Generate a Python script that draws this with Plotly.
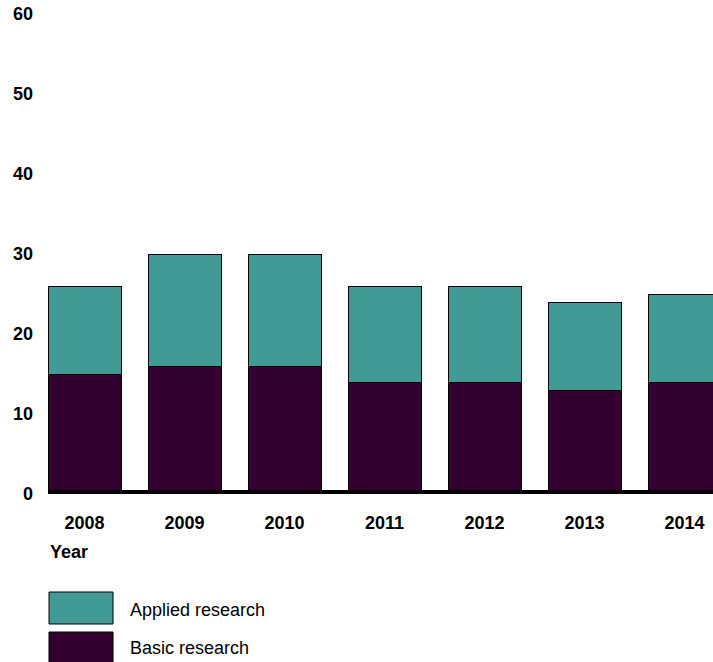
import plotly.graph_objects as go

years = ["2008", "2009", "2010", "2011", "2012", "2013", "2014"]
basic = [15, 16, 16, 14, 14, 13, 14]
applied = [11, 14, 14, 12, 12, 11, 11]
y_ticks = [0, 10, 20, 30, 40, 50, 60]

TEAL = "#419a94"
PURPLE = "#330030"
FONT = "Liberation Sans, Arial, sans-serif"

W, H = 713, 662
L, R, T, B = 48, 0, 14, 168
ph = H - T - B
pw = W - L - R

xpos = list(range(len(years)))

fig = go.Figure()
fig.add_trace(go.Bar(x=xpos, y=basic, name="Basic research", marker=dict(color=PURPLE, line=dict(color="black", width=1)), width=0.73, showlegend=False))
fig.add_trace(go.Bar(x=xpos, y=applied, name="Applied research", marker=dict(color=TEAL, line=dict(color="black", width=1)), width=0.73, showlegend=False))

def py(px):
    return (H - B - px) / ph

def px_(xp):
    return (xp - L) / pw

shapes = [
    dict(type="rect", xref="paper", yref="paper", x0=px_(49), x1=px_(113), y0=py(624), y1=py(592),
         fillcolor=TEAL, line=dict(color="black", width=1)),
    dict(type="rect", xref="paper", yref="paper", x0=px_(49), x1=px_(113), y0=py(666), y1=py(632),
         fillcolor=PURPLE, line=dict(color="black", width=1)),
    dict(type="line", xref="paper", yref="paper", x0=0, x1=1, y0=py(492), y1=py(492),
         line=dict(color="black", width=4), layer="above"),
]

annotations = [
    dict(text="<b>Year</b>", xref="paper", yref="paper", x=0, y=py(552), xanchor="left", yanchor="middle",
         showarrow=False, font=dict(size=18, color="black", family=FONT)),
    dict(text="Applied research", xref="paper", yref="paper", x=px_(128), y=py(610), xanchor="left", yanchor="middle",
         showarrow=False, font=dict(size=18, color="black", family=FONT)),
    dict(text="Basic research", xref="paper", yref="paper", x=px_(128), y=py(648), xanchor="left", yanchor="middle",
         showarrow=False, font=dict(size=18, color="black", family=FONT)),
]

fig.update_layout(
    barmode="stack",
    width=W, height=H,
    margin=dict(l=L, r=R, t=T, b=B, pad=0),
    plot_bgcolor="white", paper_bgcolor="white",
    font=dict(family=FONT, size=18, color="black"),
    shapes=shapes,
    annotations=annotations,
    xaxis=dict(tickmode="array", tickvals=xpos, ticktext=["<b>%s</b>" % y for y in years],
               range=[-0.365, 6.285], showgrid=False, zeroline=False, showline=False,
               ticks="", ticklabelstandoff=16, tickfont=dict(size=18, family=FONT)),
    yaxis=dict(range=[0, 60], tickvals=y_ticks, ticktext=["<b>%d</b>" % v for v in y_ticks],
               showgrid=False, zeroline=False, showline=False, ticks="",
               ticklabelstandoff=14, tickfont=dict(size=18, family=FONT)),
)

fig.write_html("out.html", config={"displayModeBar": False},
               post_script="document.body.style.margin='0';document.body.style.overflow='hidden';")
